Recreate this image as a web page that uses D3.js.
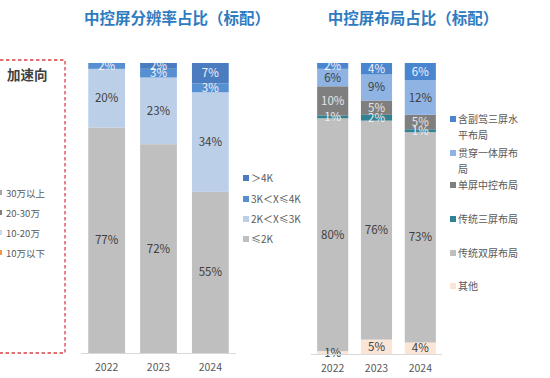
<!DOCTYPE html>
<html><head><meta charset="utf-8">
<script src="https://cdn.jsdelivr.net/npm/d3@7"></script>
<style>
html,body{margin:0;padding:0;background:#fff;}
svg{display:block;font-family:"Noto Sans CJK SC","Noto Sans",sans-serif;}
</style></head>
<body><svg id="c" width="550" height="378"></svg>
<script>
// ---- data ----
const years = ["2022", "2023", "2024"];
// chart 1: resolution share
const resKeys = ["≤2K", "2K＜X≤3K", "3K＜X≤4K", "＞4K"];
const resLE2K = [77, 72, 55];
const res2to3K = [20, 23, 34];
const res3to4K = [2, 3, 3];
const resGT4K = [0, 2, 7];
// chart 2: layout share
const layKeys = ["其他", "传统双屏布局", "传统三屏布局", "单屏中控布局", "贯穿一体屏布局", "含副驾三屏水平布局"];
const layOther = [1, 5, 4];
const layDual = [80, 76, 73];
const layTriple = [1, 2, 1];
const laySingle = [10, 5, 5];
const layThrough = [6, 9, 12];
const layPassenger = [2, 4, 6];
// left (cut) legend
const leftLegend = ["30万以上", "20-30万", "10-20万", "10万以下"];

const svg = d3.select("#c");
const labelDark = "#404040";

// ---------- left partial panel ----------
svg.append("text").attr("x", 9).attr("y", 25).attr("text-anchor", "end")
  .attr("font-size", 17).attr("font-weight", "bold").attr("fill", "#2f7bbf").text("）");
svg.append("rect").attr("x", -6).attr("y", 60).attr("width", 71).attr("height", 293)
  .attr("fill", "none").attr("stroke", "#d9434a").attr("stroke-width", 1.3).attr("stroke-dasharray", "3.5,2.5");
svg.append("text").attr("x", 7).attr("y", 80).attr("font-size", 13.5).attr("font-weight", "bold")
  .attr("fill", "#404040").text("加速向");
const leftColors = ["#a6a6a6", "#7f7f7f", "#c9d8ec", "#f39a45"];
const ly = d3.scaleBand().domain(leftLegend).range([183, 263]);
leftLegend.forEach((k, i) => {
  svg.append("rect").attr("x", -3).attr("y", ly(k) + ly.bandwidth() / 2 - 3).attr("width", 5).attr("height", 5).attr("fill", leftColors[i]);
  svg.append("text").attr("x", 6).attr("y", ly(k) + ly.bandwidth() / 2 + 3.5).attr("font-size", 9.5).attr("fill", "#595959").text(k);
});

// ---------- generic stacked chart ----------
function stacked(opts) {
  const rows = years.map((y, i) => {
    const r = { year: y };
    opts.keys.forEach((k, j) => r[k] = opts.series[j][i]);
    return r;
  });
  const stack = d3.stack().keys(opts.keys).offset(d3.stackOffsetExpand)(rows);
  const x = d3.scaleBand().domain(years).range(opts.xr).paddingInner(0.29).paddingOuter(0.14);
  const y = d3.scaleLinear().domain([0, 1]).range(opts.yr);
  const g = svg.append("g");
  stack.forEach((s, j) => {
    g.selectAll(null).data(s).join("rect")
      .attr("x", d => x(d.data.year)).attr("width", x.bandwidth())
      .attr("y", d => y(d[1])).attr("height", d => Math.max(0, y(d[0]) - y(d[1])))
      .attr("fill", opts.colors[j]);
  });
  stack.forEach((s, j) => {
    g.selectAll(null).data(s.filter(d => d.data[s.key] > 0)).join("text")
      .attr("x", d => x(d.data.year) + x.bandwidth() / 2)
      .attr("y", d => (y(d[0]) + y(d[1])) / 2 + 4)
      .attr("text-anchor", "middle").attr("font-size", 11.5)
      .attr("fill", opts.labelColors[j])
      .text(d => d.data[s.key] + "%");
  });
  // axis
  const ax = g.append("g").attr("transform", `translate(0,${opts.yr[0]})`)
    .call(d3.axisBottom(x).tickSize(0).tickPadding(11).tickSizeOuter(0));
  ax.select(".domain").attr("stroke", "#d9d9d9").attr("d", `M${opts.xr[0]},0.5H${opts.xr[1]}`);
  ax.selectAll("text").attr("font-size", 10.5).attr("fill", "#595959").attr("font-family", "'Noto Sans CJK SC',sans-serif");
  // title
  svg.append("text").attr("x", opts.titleX).attr("y", 24).attr("text-anchor", "middle")
    .attr("font-size", 15.5).attr("font-weight", "bold").attr("fill", "#2f7bbf").text(opts.title);
  // legend
  opts.legend.forEach((it) => {
    svg.append("rect").attr("x", opts.legX).attr("y", it.y - 3).attr("width", 6).attr("height", 6).attr("fill", opts.colors[it.k]);
    it.lines.forEach((ln, li) => {
      svg.append("text").attr("x", opts.legX + 8).attr("y", it.y + 3.5 + li * 16)
        .attr("font-size", 10).attr("fill", "#595959").text(ln);
    });
  });
}

stacked({
  keys: resKeys,
  series: [resLE2K, res2to3K, res3to4K, resGT4K],
  colors: ["#bfbfbf", "#bccfe8", "#5790d2", "#4a7cbf"],
  labelColors: [labelDark, labelDark, "#eef3fa", "#eef3fa"],
  xr: [81, 236], yr: [353, 63],
  title: "中控屏分辨率占比（标配）", titleX: 177,
  legX: 243,
  legend: [
    { k: 3, y: 178, lines: [resKeys[3]] },
    { k: 2, y: 199, lines: [resKeys[2]] },
    { k: 1, y: 219, lines: [resKeys[1]] },
    { k: 0, y: 239, lines: [resKeys[0]] }
  ]
});

stacked({
  keys: layKeys,
  series: [layOther, layDual, layTriple, laySingle, layThrough, layPassenger],
  colors: ["#fbe5d6", "#bfbfbf", "#2e8294", "#7f7f7f", "#8fb4e3", "#4a86d0"],
  labelColors: [labelDark, labelDark, "#e8f0f2", "#e6e6e6", labelDark, "#eef3fa"],
  xr: [311, 442], yr: [354, 63],
  title: "中控屏布局占比（标配）", titleX: 413,
  legX: 450,
  legend: [
    { k: 5, y: 119, lines: ["含副驾三屏水", "平布局"] },
    { k: 4, y: 153, lines: ["贯穿一体屏布", "局"] },
    { k: 3, y: 185, lines: ["单屏中控布局"] },
    { k: 2, y: 219, lines: ["传统三屏布局"] },
    { k: 1, y: 253, lines: ["传统双屏布局"] },
    { k: 0, y: 286, lines: ["其他"] }
  ]
});
</script></body></html>
